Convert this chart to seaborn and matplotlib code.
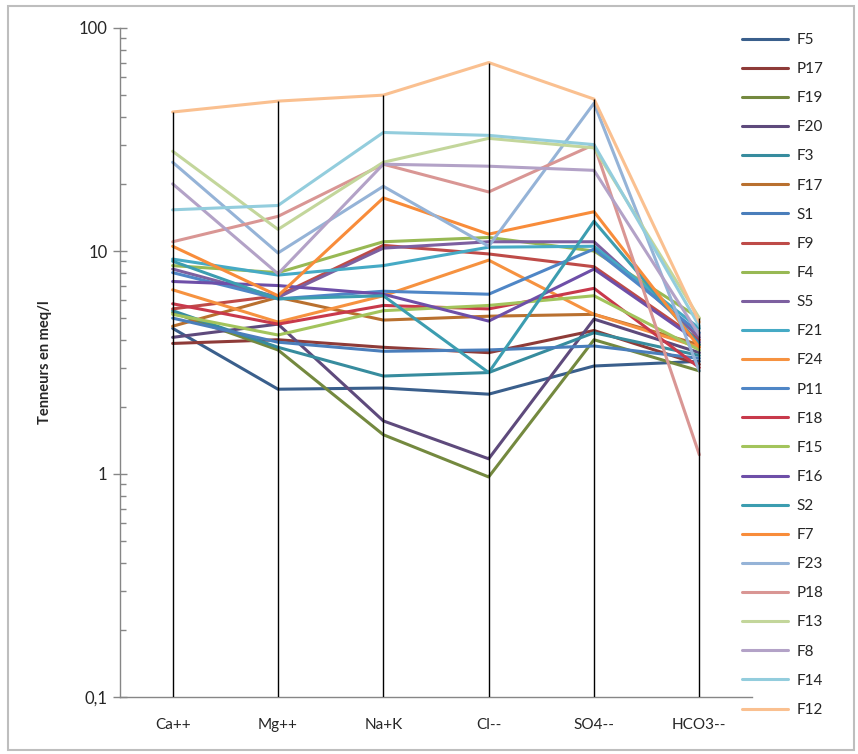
import numpy as np
import pandas as pd
import seaborn as sns
import matplotlib.pyplot as plt
from matplotlib.ticker import FixedLocator, FixedFormatter, LogLocator, NullFormatter
from matplotlib.patches import Rectangle

# diagramme de Schoeller : teneurs en meq/l par ion
ions = ["Ca++", "Mg++", "Na+K", "Cl--", "SO4--", "HCO3--"]

F5 = [4.5, 2.4, 2.43, 2.28, 3.05, 3.2]
P17 = [3.85, 4.0, 3.7, 3.5, 4.4, 3.1]
F19 = [5.3, 3.6, 1.5, 0.97, 4.0, 2.9]
F20 = [4.1, 4.7, 1.73, 1.17, 4.95, 3.5]
F3 = [5.4, 3.7, 2.75, 2.85, 4.3, 3.4]
F17 = [4.6, 6.2, 4.9, 5.1, 5.2, 3.8]
S1 = [5.0, 3.9, 3.55, 3.6, 3.75, 3.3]
F9 = [5.5, 6.3, 10.6, 9.7, 8.5, 4.0]
F4 = [8.6, 8.0, 11.0, 11.5, 10.0, 5.0]
S5 = [8.3, 6.2, 10.3, 11.0, 11.0, 4.1]
F21 = [9.2, 7.8, 8.6, 10.4, 10.5, 4.5]
F24 = [6.7, 4.8, 6.3, 9.1, 5.2, 3.7]
P11 = [8.0, 6.1, 6.6, 6.4, 10.2, 4.3]
F18 = [5.8, 4.7, 5.7, 5.5, 6.8, 3.0]
F15 = [5.2, 4.2, 5.4, 5.7, 6.3, 3.6]
F16 = [7.3, 7.0, 6.4, 4.85, 8.3, 3.9]
S2 = [9.0, 6.1, 6.3, 2.85, 13.6, 3.8]
F7 = [10.5, 6.3, 17.3, 11.9, 15.0, 3.7]
F23 = [25.0, 9.8, 19.5, 10.5, 46.0, 2.9]
P18 = [11.0, 14.3, 24.5, 18.4, 30.0, 1.22]
F13 = [28.0, 12.5, 25.0, 32.0, 29.0, 5.0]
F8 = [20.0, 7.9, 24.5, 24.0, 23.0, 4.2]
F14 = [15.3, 16.0, 34.0, 33.0, 30.0, 4.6]
F12 = [42.0, 47.0, 50.0, 70.0, 48.0, 4.8]

samples = ["F5", "P17", "F19", "F20", "F3", "F17", "S1", "F9", "F4", "S5", "F21", "F24",
           "P11", "F18", "F15", "F16", "S2", "F7", "F23", "P18", "F13", "F8", "F14", "F12"]
series = [F5, P17, F19, F20, F3, F17, S1, F9, F4, S5, F21, F24,
          P11, F18, F15, F16, S2, F7, F23, P18, F13, F8, F14, F12]

# couleurs façon Excel 2007
colors = ["#3A5F8C", "#8E3B38", "#74893F", "#5E4A7C", "#378C9E", "#B9702F",
          "#4A7EBB", "#BE4B48", "#98B954", "#7D60A0", "#46AAC5", "#F69240",
          "#4F86C6", "#C8394B", "#A3C45C", "#6E4FA8", "#3C9DB0", "#F88C3A",
          "#95B3D7", "#D99694", "#C3D69B", "#B3A2C7", "#93CDDD", "#FAC090"]

rows = []
for name, vals in zip(samples, series):
    for ion, v in zip(ions, vals):
        rows.append({"ion": ion, "echantillon": name, "meq": v})
df = pd.DataFrame(rows)

sns.set_style("white")
plt.rcParams["font.family"] = ["Lato", "DejaVu Sans"]

W, H = 858, 754
fig = plt.figure(figsize=(W / 100, H / 100), dpi=100)
ax = fig.add_axes([120 / W, 1 - 697 / H, (752 - 120) / W, (697 - 28) / H])

sns.lineplot(data=df, x="ion", y="meq", hue="echantillon", hue_order=samples,
             palette=colors, sort=False, estimator=None, linewidth=2.2, ax=ax)

ax.set_yscale("log")
ax.set_ylim(0.1, 100)
ax.set_xlim(-0.5, 5.5)

# lignes verticales jusqu'au maximum de chaque ion
tops = df.groupby("ion", sort=False)["meq"].max()
ax.vlines(tops.index, 0.1, tops.values, color="black", lw=1, zorder=5)

ax.yaxis.set_major_locator(FixedLocator([0.1, 1, 10, 100]))
ax.yaxis.set_major_formatter(FixedFormatter(["0,1", "1", "10", "100"]))
ax.yaxis.set_minor_locator(LogLocator(base=10, subs=np.arange(2, 10)))
ax.yaxis.set_minor_formatter(NullFormatter())
ax.tick_params(axis="y", which="major", left=True, direction="inout", length=10,
               width=1, color="#868686", labelsize=12, pad=4)
ax.tick_params(axis="y", which="minor", left=True, direction="in", length=4,
               width=1, color="#868686")
ax.tick_params(axis="x", bottom=False, length=0, pad=15, labelsize=11)

for side in ["top", "right"]:
    ax.spines[side].set_visible(False)
for side in ["left", "bottom"]:
    ax.spines[side].set_color("#868686")
    ax.spines[side].set_linewidth(1)

ax.set_xlabel("")
ax.set_ylabel("")
fig.text(45 / W, 1 - 362 / H, "Tenneurs en meq/l", rotation=90, fontweight="bold",
         ha="center", va="center", fontsize=10.5)

handles, labels = ax.get_legend_handles_labels()
ax.legend(handles, labels, frameon=False, loc="upper left",
          bbox_to_anchor=(742 / W, 1 - 33 / H), bbox_transform=fig.transFigure,
          fontsize=11, handlelength=3.0, handletextpad=0.55, labelspacing=0.99,
          borderaxespad=0, borderpad=0)

fig.add_artist(Rectangle((8 / W, 4 / H), 846 / W, 744 / H, transform=fig.transFigure,
                         fill=False, edgecolor="#BEBEBE", lw=1.5))

fig.savefig("out.png", dpi=100)
